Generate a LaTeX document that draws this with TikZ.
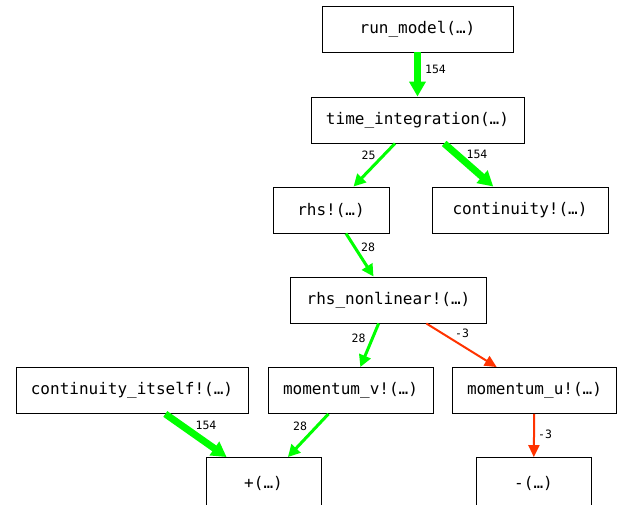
\documentclass[tikz,border=0pt]{standalone}
\usepackage{fontspec}
\setmonofont{DejaVu Sans Mono}
\usepackage{tikz}
\usetikzlibrary{arrows.meta,positioning}

\definecolor{callgreen}{RGB}{0,255,0}
\definecolor{callred}{RGB}{255,51,0}

\begin{document}
\begin{tikzpicture}[x=1pt,y=-1pt,
	fn/.style={shape=rectangle,draw,line width=0.9pt,minimum height=46pt,inner sep=0pt,
		font=\ttfamily\fontsize{16}{18}\selectfont},
	lbl/.style={inner sep=0pt,font=\ttfamily\fontsize{11.5}{13}\selectfont},
	heavy/.style={draw=callgreen,line width=7pt,-{Triangle[length=15pt,width=16pt]}},
	light/.style={draw=callgreen,line width=3pt,-{Triangle[length=12pt,width=12pt]}},
	neg/.style={draw=callred,line width=2pt,-{Triangle[length=12pt,width=11pt]}}]
	\useasboundingbox (0,0) rectangle (624,504);
	\path (417.5,29) node (run) [fn,minimum width=191pt] {run\_model(…)}
		  (417.5,120) node (time) [fn,minimum width=213pt] {time\_integration(…)}
		  (331,210) node (rhs) [fn,minimum width=116pt] {rhs!(…)}
		  (520,210) node (cont) [fn,minimum width=176pt] {continuity!(…)}
		  (388.5,300) node (rhsnl) [fn,minimum width=196pt] {rhs\_nonlinear!(…)}
		  (132,390.5) node (contit) [fn,minimum width=232pt] {continuity\_itself!(…)}
		  (350.5,390.5) node (momv) [fn,minimum width=165pt] {momentum\_v!(…)}
		  (534.5,390.5) node (momu) [fn,minimum width=164pt] {momentum\_u!(…)}
		  (263.5,483) node (plus) [fn,minimum width=115pt,minimum height=51pt] {+(…)}
		  (533.5,483) node (minus) [fn,minimum width=115pt,minimum height=51pt] {-(…)};
	\draw[heavy] (run) -- (time);
	\draw[light] (time) -- (rhs);
	\draw[heavy] (time) -- (cont);
	\draw[light] (rhs) -- (rhsnl);
	\draw[light] (rhsnl) -- (momv);
	\draw[neg] (rhsnl) -- (momu);
	\draw[heavy] (contit) -- (plus);
	\draw[light] (momv) -- (plus);
	\draw[neg] (momu) -- (minus);
	% call counts
	\path (435.5,69.5) node (w1) [lbl] {154}
		  (368.5,155) node (w2) [lbl] {25}
		  (477,154) node (w3) [lbl] {154}
		  (368,247) node (w4) [lbl] {28}
		  (358.5,338.5) node (w5) [lbl] {28}
		  (462,333) node (w6) [lbl] {-3}
		  (206,425) node (w7) [lbl] {154}
		  (300,426) node (w8) [lbl] {28}
		  (545,434) node (w9) [lbl] {-3};
\end{tikzpicture}
\end{document}
